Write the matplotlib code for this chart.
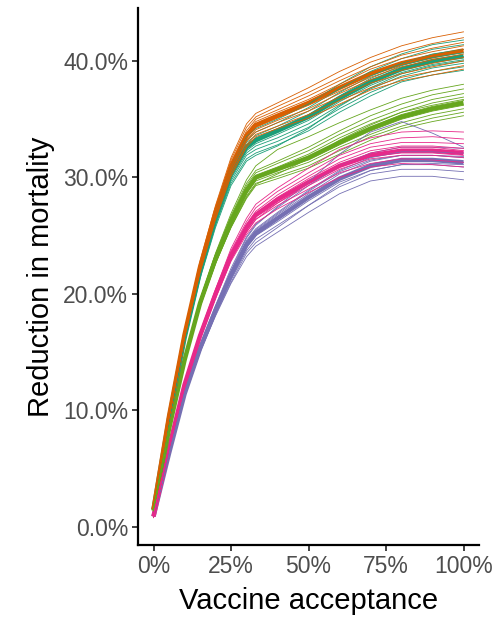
import matplotlib
matplotlib.use('Agg')
import matplotlib.pyplot as plt
from matplotlib.ticker import FuncFormatter

plt.rcParams['font.family'] = ['Liberation Sans', 'DejaVu Sans']

# vaccine acceptance (%) where each curve is sampled
acceptance = [0, 5, 10, 15, 20, 25, 30, 33, 40, 50, 60, 70, 80, 90, 100]

# mean reduction in mortality (%) per scenario
mean_orange = [1.5, 9.5, 16.5, 22.3, 27.0, 30.9, 33.6, 34.5, 35.3, 36.4, 37.7, 38.9, 39.8, 40.4, 40.9]
mean_teal = [1.5, 9.3, 16.2, 21.9, 26.5, 30.3, 32.6, 33.2, 34.0, 35.2, 36.8, 38.2, 39.3, 40.0, 40.4]
mean_green = [1.4, 8.4, 14.3, 19.2, 23.0, 26.2, 28.9, 30.0, 30.7, 31.7, 33.0, 34.2, 35.2, 35.9, 36.4]
mean_pink = [0.9, 6.8, 12.2, 16.4, 20.0, 23.3, 25.7, 26.8, 28.1, 29.6, 31.0, 31.9, 32.3, 32.3, 32.1]
mean_purple = [0.9, 6.3, 11.4, 15.3, 18.6, 21.6, 24.2, 25.2, 26.5, 28.3, 29.9, 31.0, 31.5, 31.5, 31.3]

# individual simulation runs
runs_orange = [
    [1.5, 9.7, 16.8, 22.8, 27.6, 31.7, 34.6, 35.5, 36.4, 37.7, 39.1, 40.3, 41.3, 42.0, 42.5],
    [1.6, 9.6, 16.7, 22.6, 27.4, 31.5, 34.3, 35.2, 36.1, 37.3, 38.6, 39.9, 40.8, 41.5, 42.0],
    [1.5, 9.6, 16.6, 22.5, 27.3, 31.3, 34.0, 35.0, 35.8, 37.0, 38.3, 39.5, 40.5, 41.1, 41.6],
    [1.4, 9.5, 16.6, 22.4, 27.2, 31.1, 33.8, 34.8, 35.6, 36.7, 38.0, 39.3, 40.2, 40.8, 41.3],
    [1.5, 9.5, 16.5, 22.3, 27.0, 30.9, 33.7, 34.6, 35.4, 36.5, 37.8, 39.0, 39.9, 40.5, 41.0],
    [1.5, 9.5, 16.4, 22.2, 26.9, 30.8, 33.4, 34.3, 35.1, 36.2, 37.4, 38.6, 39.5, 40.1, 40.6],
    [1.4, 9.4, 16.4, 22.1, 26.8, 30.6, 33.2, 34.1, 34.9, 35.9, 37.2, 38.4, 39.2, 39.8, 40.3],
    [1.5, 9.4, 16.3, 22.0, 26.6, 30.5, 33.1, 33.9, 34.7, 35.7, 36.9, 38.1, 38.9, 39.5, 40.0],
    [1.5, 9.4, 16.2, 21.9, 26.5, 30.3, 32.8, 33.7, 34.4, 35.4, 36.6, 37.7, 38.6, 39.1, 39.6],
    [1.4, 9.3, 16.2, 21.8, 26.4, 30.1, 32.6, 33.5, 34.2, 35.1, 36.3, 37.5, 38.3, 38.8, 39.3],
]
runs_teal = [
    [1.5, 9.5, 16.5, 22.4, 27.1, 31.0, 33.5, 34.2, 35.0, 36.3, 38.0, 39.5, 40.6, 41.4, 41.8],
    [1.6, 9.4, 16.4, 22.2, 26.9, 30.8, 33.2, 33.9, 34.7, 36.0, 37.6, 39.1, 40.2, 41.0, 41.4],
    [1.5, 9.4, 16.3, 22.1, 26.7, 30.6, 33.0, 33.6, 34.4, 35.7, 37.3, 38.7, 39.8, 40.6, 41.0],
    [1.5, 9.3, 16.3, 22.0, 26.6, 30.4, 32.8, 33.4, 34.2, 35.4, 37.0, 38.5, 39.6, 40.3, 40.7],
    [1.4, 9.3, 16.2, 21.9, 26.5, 30.3, 32.6, 33.2, 34.0, 35.2, 36.8, 38.2, 39.3, 40.0, 40.4],
    [1.5, 9.2, 16.1, 21.8, 26.3, 30.1, 32.3, 32.9, 33.7, 34.9, 36.5, 37.9, 39.0, 39.7, 40.1],
    [1.5, 9.2, 16.0, 21.7, 26.2, 29.9, 32.1, 32.7, 33.4, 34.6, 36.2, 37.6, 38.7, 39.4, 39.8],
    [1.4, 9.2, 16.0, 21.6, 26.0, 29.7, 31.9, 32.4, 33.1, 34.3, 35.9, 37.3, 38.4, 39.1, 39.5],
    [1.5, 9.1, 15.9, 21.5, 25.9, 29.5, 31.6, 32.1, 32.8, 34.0, 35.6, 37.0, 38.2, 38.8, 39.2],
    [1.5, 9.1, 15.8, 21.3, 25.7, 29.3, 31.4, 31.9, 32.7, 34.2, 36.1, 37.7, 38.9, 39.6, 40.0],
]
runs_green = [
    [1.4, 8.5, 14.5, 19.5, 23.5, 26.9, 29.8, 31.0, 32.4, 33.5, 34.7, 35.8, 36.8, 37.5, 38.0],
    [1.5, 8.5, 14.5, 19.5, 23.4, 26.7, 29.5, 30.6, 31.4, 32.6, 34.0, 35.3, 36.3, 37.1, 37.6],
    [1.4, 8.5, 14.4, 19.4, 23.3, 26.6, 29.3, 30.4, 31.2, 32.3, 33.7, 34.9, 35.9, 36.7, 37.2],
    [1.4, 8.4, 14.4, 19.3, 23.2, 26.4, 29.1, 30.2, 30.9, 32.0, 33.4, 34.6, 35.6, 36.4, 36.9],
    [1.5, 8.4, 14.3, 19.2, 23.1, 26.3, 29.0, 30.1, 30.8, 31.8, 33.1, 34.3, 35.4, 36.1, 36.6],
    [1.4, 8.4, 14.3, 19.1, 22.9, 26.1, 28.8, 29.9, 30.6, 31.5, 32.8, 34.0, 35.0, 35.7, 36.2],
    [1.4, 8.3, 14.2, 19.1, 22.8, 26.0, 28.6, 29.7, 30.4, 31.3, 32.6, 33.7, 34.7, 35.4, 35.9],
    [1.5, 8.3, 14.2, 19.0, 22.7, 25.8, 28.4, 29.5, 30.1, 31.0, 32.3, 33.5, 34.4, 35.1, 35.6],
    [1.4, 8.3, 14.1, 18.9, 22.6, 25.7, 28.2, 29.3, 29.9, 30.8, 32.0, 33.2, 34.2, 34.8, 35.3],
    [1.4, 8.3, 14.1, 18.9, 22.6, 25.7, 28.3, 29.4, 30.3, 31.6, 33.2, 34.5, 35.6, 36.2, 36.7],
]
runs_pink = [
    [0.9, 6.9, 12.4, 16.7, 20.4, 23.9, 26.5, 27.7, 29.1, 30.8, 32.4, 33.4, 33.9, 34.0, 33.9],
    [1.0, 6.9, 12.4, 16.6, 20.3, 23.7, 26.2, 27.4, 28.8, 30.4, 31.9, 32.9, 33.4, 33.5, 33.3],
    [0.9, 6.9, 12.3, 16.5, 20.2, 23.5, 26.0, 27.1, 28.5, 30.1, 31.6, 32.6, 33.0, 33.0, 32.9],
    [0.8, 6.8, 12.3, 16.5, 20.1, 23.4, 25.8, 26.9, 28.3, 29.9, 31.3, 32.3, 32.7, 32.7, 32.5],
    [0.9, 6.8, 12.2, 16.4, 20.0, 23.3, 25.7, 26.8, 28.1, 29.6, 31.0, 31.9, 32.3, 32.3, 32.1],
    [0.9, 6.8, 12.1, 16.3, 19.9, 23.1, 25.5, 26.6, 27.8, 29.3, 30.7, 31.6, 31.9, 31.9, 31.7],
    [1.0, 6.7, 12.1, 16.2, 19.8, 23.0, 25.3, 26.4, 27.6, 29.0, 30.4, 31.2, 31.6, 31.5, 31.3],
    [0.9, 6.7, 12.0, 16.1, 19.6, 22.8, 25.1, 26.1, 27.3, 28.7, 30.0, 30.9, 31.2, 31.1, 30.9],
    [0.8, 6.7, 12.0, 16.2, 19.7, 22.9, 25.3, 26.4, 27.8, 29.5, 31.0, 32.1, 32.6, 32.6, 32.3],
    [0.9, 6.8, 12.2, 16.4, 20.0, 23.2, 25.6, 26.7, 28.0, 29.5, 30.9, 31.8, 32.1, 32.1, 31.9],
]
runs_purple = [
    [0.9, 6.4, 11.5, 15.5, 18.9, 22.0, 24.8, 25.9, 27.5, 29.6, 32.0, 33.9, 34.8, 33.8, 32.6],
    [0.9, 6.4, 11.6, 15.6, 19.0, 22.2, 24.9, 26.0, 27.4, 29.3, 31.0, 32.1, 32.6, 32.6, 32.5],
    [1.0, 6.4, 11.5, 15.5, 18.8, 21.9, 24.6, 25.6, 27.0, 28.9, 30.6, 31.7, 32.2, 32.2, 32.1],
    [0.9, 6.3, 11.4, 15.4, 18.7, 21.7, 24.4, 25.4, 26.8, 28.6, 30.3, 31.4, 31.9, 31.9, 31.7],
    [0.9, 6.3, 11.4, 15.3, 18.6, 21.6, 24.2, 25.2, 26.5, 28.3, 29.9, 31.0, 31.5, 31.5, 31.3],
    [0.8, 6.3, 11.3, 15.2, 18.5, 21.4, 24.0, 25.0, 26.2, 28.0, 29.6, 30.6, 31.1, 31.1, 30.9],
    [0.9, 6.2, 11.3, 15.1, 18.3, 21.2, 23.7, 24.7, 25.9, 27.6, 29.2, 30.3, 30.7, 30.7, 30.5],
    [0.9, 6.2, 11.2, 15.0, 18.1, 20.9, 23.2, 24.1, 25.3, 27.0, 28.6, 29.7, 30.1, 30.1, 29.8],
    [0.9, 6.2, 11.2, 15.0, 18.2, 21.0, 23.5, 24.4, 25.7, 27.6, 29.4, 30.6, 31.1, 31.2, 31.1],
    [0.9, 6.3, 11.4, 15.4, 18.8, 21.8, 24.5, 25.5, 26.9, 28.8, 30.5, 31.5, 31.9, 31.9, 31.8],
]

c_teal = '#1B9E77'
c_orange = '#D95F02'
c_purple = '#7570B3'
c_pink = '#E7298A'
c_green = '#66A61E'

fig = plt.figure(figsize=(5.00, 6.23), dpi=100)
ax = fig.add_axes([0.276, 0.1252, 0.682, 0.862])

# mean lines underneath, runs drawn over them
thick = 3.2
for m, col in [(mean_purple, c_purple), (mean_pink, c_pink), (mean_green, c_green),
               (mean_teal, c_teal), (mean_orange, c_orange)]:
    ax.plot(acceptance, m, color=col, lw=thick, zorder=2, solid_capstyle='butt')

thin = 0.6
for runs, col in [(runs_teal, c_teal), (runs_orange, c_orange), (runs_green, c_green),
                  (runs_purple, c_purple), (runs_pink, c_pink)]:
    for r in runs:
        ax.plot(acceptance, r, color=col, lw=thin, zorder=3)

ax.set_xlim(-5, 105)
ax.set_ylim(-1.55, 44.55)
ax.set_xticks([0, 25, 50, 75, 100])
ax.set_yticks([0, 10, 20, 30, 40])
ax.xaxis.set_major_formatter(FuncFormatter(lambda v, p: f'{v:.0f}%'))
ax.yaxis.set_major_formatter(FuncFormatter(lambda v, p: f'{v:.1f}%'))

for s in ['top', 'right']:
    ax.spines[s].set_visible(False)
for s in ['left', 'bottom']:
    ax.spines[s].set_linewidth(1.6)
    ax.spines[s].set_color('black')

ax.tick_params(axis='both', length=4, width=1.3, color='#333333',
               labelcolor='#4D4D4D', labelsize=16.5, pad=3)

ax.set_xlabel('Vaccine acceptance', fontsize=21, color='black', labelpad=7)
ax.set_ylabel('Reduction in mortality', fontsize=21, color='black', labelpad=6)

fig.savefig('out.png', dpi=100)
